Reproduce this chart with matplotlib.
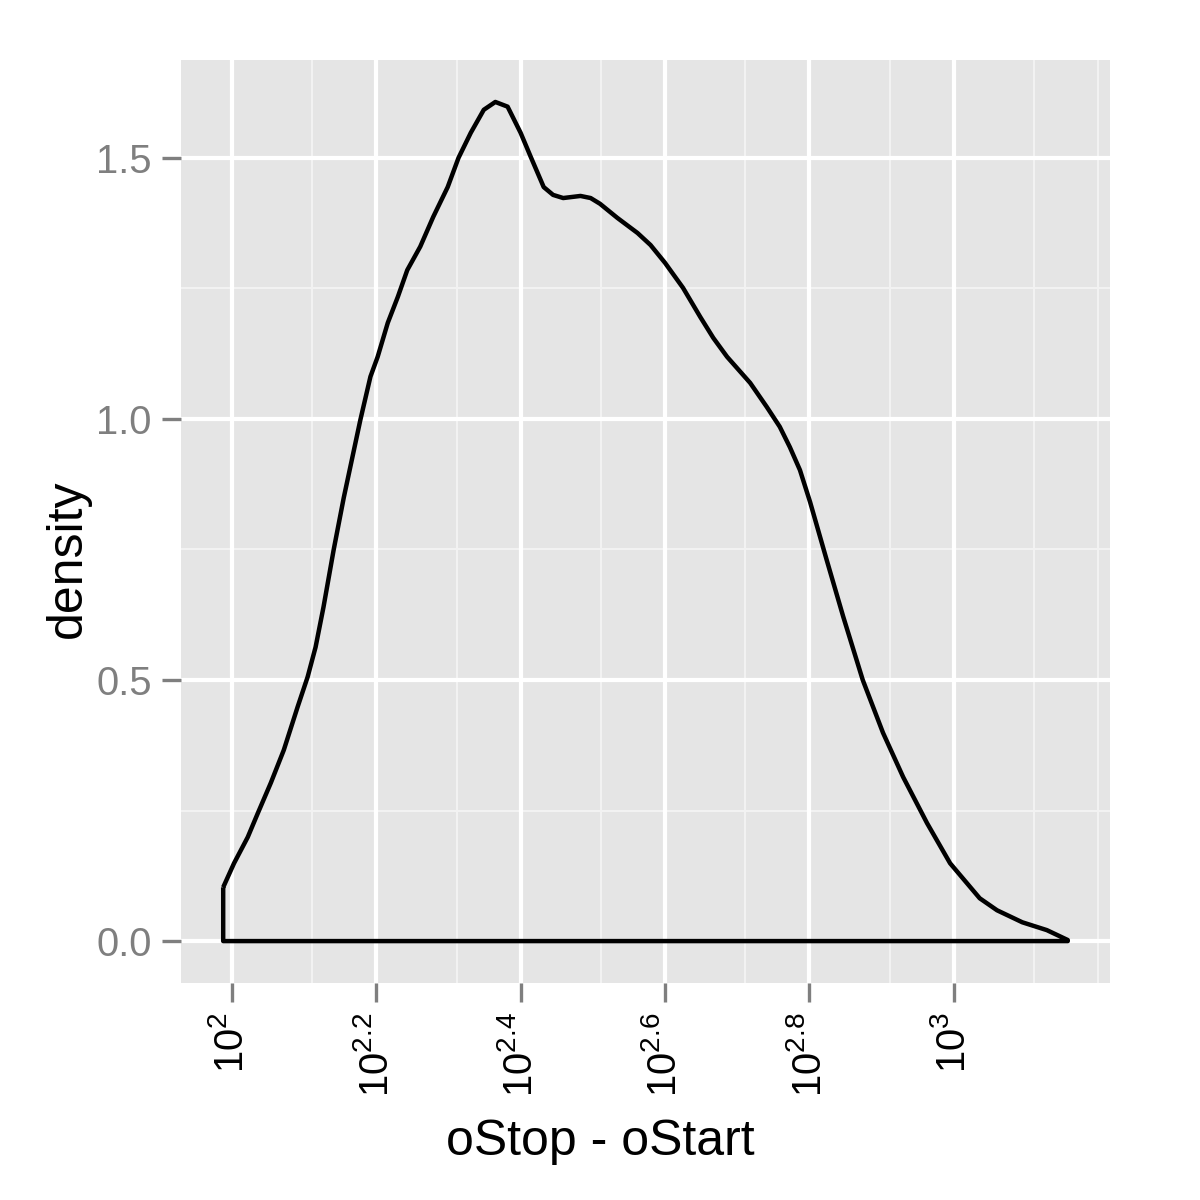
#!/usr/bin/env python3
# Density of oStop - oStart on a log10 x axis, ggplot2 grey theme look.

import numpy as np
import matplotlib
matplotlib.use("Agg")
import matplotlib.pyplot as plt
from matplotlib.ticker import NullLocator

plt.rcParams["font.family"] = ["Liberation Sans", "DejaVu Sans"]
plt.rcParams["mathtext.fontset"] = "custom"
plt.rcParams["mathtext.rm"] = "Liberation Sans"
plt.rcParams["mathtext.it"] = "Liberation Sans:italic"

# ---------------------------------------------------------------------------
# Data: log10(oStop - oStart) vs density
# ---------------------------------------------------------------------------

log_x = [1.988, 2.003, 2.022, 2.036, 2.054, 2.072, 2.091, 2.105, 2.116, 2.127,
         2.141, 2.155, 2.178, 2.192, 2.202, 2.216, 2.230, 2.243, 2.261, 2.279,
         2.299, 2.314, 2.331, 2.349, 2.365, 2.382, 2.400, 2.414, 2.432, 2.445,
         2.459, 2.483, 2.497, 2.510, 2.534, 2.562, 2.580, 2.600, 2.625, 2.649,
         2.667, 2.686, 2.718, 2.741, 2.759, 2.773, 2.787, 2.801, 2.824, 2.847,
         2.874, 2.902, 2.930, 2.963, 2.995, 3.036, 3.060, 3.095, 3.129, 3.158]
density = [0.103, 0.149, 0.199, 0.245, 0.303, 0.366, 0.448, 0.506, 0.563, 0.640,
           0.749, 0.849, 0.998, 1.081, 1.119, 1.184, 1.234, 1.285, 1.330, 1.387,
           1.444, 1.500, 1.548, 1.592, 1.607, 1.598, 1.548, 1.502, 1.444, 1.429,
           1.423, 1.427, 1.423, 1.412, 1.385, 1.356, 1.333, 1.299, 1.251, 1.195,
           1.155, 1.119, 1.069, 1.023, 0.985, 0.946, 0.902, 0.841, 0.730, 0.621,
           0.500, 0.399, 0.314, 0.226, 0.149, 0.082, 0.059, 0.036, 0.021, 0.002]

x_break_exp = [2, 2.2, 2.4, 2.6, 2.8, 3]
x_break_labels = [r"$10^{2}$", r"$10^{2.2}$", r"$10^{2.4}$", r"$10^{2.6}$",
                  r"$10^{2.8}$", r"$10^{3}$"]
y_breaks = [0.0, 0.5, 1.0, 1.5]
y_break_labels = ["0.0", "0.5", "1.0", "1.5"]

BG = "#E5E5E5"
MINOR = "#F2F2F2"
GREY50 = "#7F7F7F"


def main():
    x = 10 ** np.array(log_x)
    y = np.array(density)

    fig = plt.figure(figsize=(4, 4), dpi=300)
    ax = fig.add_axes([0.1508, 0.1808, 0.925 - 0.1508, 0.95 - 0.1808])
    ax.set_facecolor(BG)
    for s in ax.spines.values():
        s.set_visible(False)

    ax.set_xscale("log")
    # ggplot-style 5% expansion in transformed space
    lo, hi = min(log_x), max(log_x)
    pad = 0.05 * (hi - lo)
    ax.set_xlim(10 ** (lo - pad), 10 ** (hi + pad))
    ypad = 0.05 * max(density)
    ax.set_ylim(-ypad, max(density) + ypad)

    # grid: minor breaks at linear midpoints between majors (old ggplot2)
    majors = 10 ** np.array(x_break_exp + [3.2])
    minors_x = list((majors[:-1] + majors[1:]) / 2) + [majors[-1]]
    for mx in minors_x:
        ax.axvline(mx, color=MINOR, lw=0.5, zorder=0)
    for my in [0.25, 0.75, 1.25]:
        ax.axhline(my, color=MINOR, lw=0.5, zorder=0)
    for bx in majors[:-1]:
        ax.axvline(bx, color="white", lw=1.0, zorder=0)
    for by in y_breaks:
        ax.axhline(by, color="white", lw=1.0, zorder=0)

    # density outline (closed polygon like geom_density)
    px = np.concatenate([x, [x[-1], x[0], x[0]]])
    py = np.concatenate([y, [0, 0, y[0]]])
    ax.plot(px, py, color="black", lw=1.07, solid_joinstyle="round",
            solid_capstyle="butt", zorder=3)

    ax.set_xticks(10 ** np.array(x_break_exp))
    ax.set_xticklabels(x_break_labels, rotation=90, va="top", ha="center",
                       fontsize=9.6, color="black")
    ax.xaxis.set_minor_locator(NullLocator())
    ax.set_yticks(y_breaks)
    ax.set_yticklabels(y_break_labels, fontsize=9.6, color=GREY50)
    ax.tick_params(axis="both", length=4.5, width=0.8, color=GREY50, pad=2.5)

    fig.text(0.5, 0.0375, "oStop - oStart", ha="center", va="baseline",
             fontsize=12)
    fig.text(0.0563, 0.534, "density", ha="center", va="center",
             rotation=90, fontsize=12)

    fig.savefig("out.png", dpi=300, facecolor="white")


if __name__ == "__main__":
    main()
